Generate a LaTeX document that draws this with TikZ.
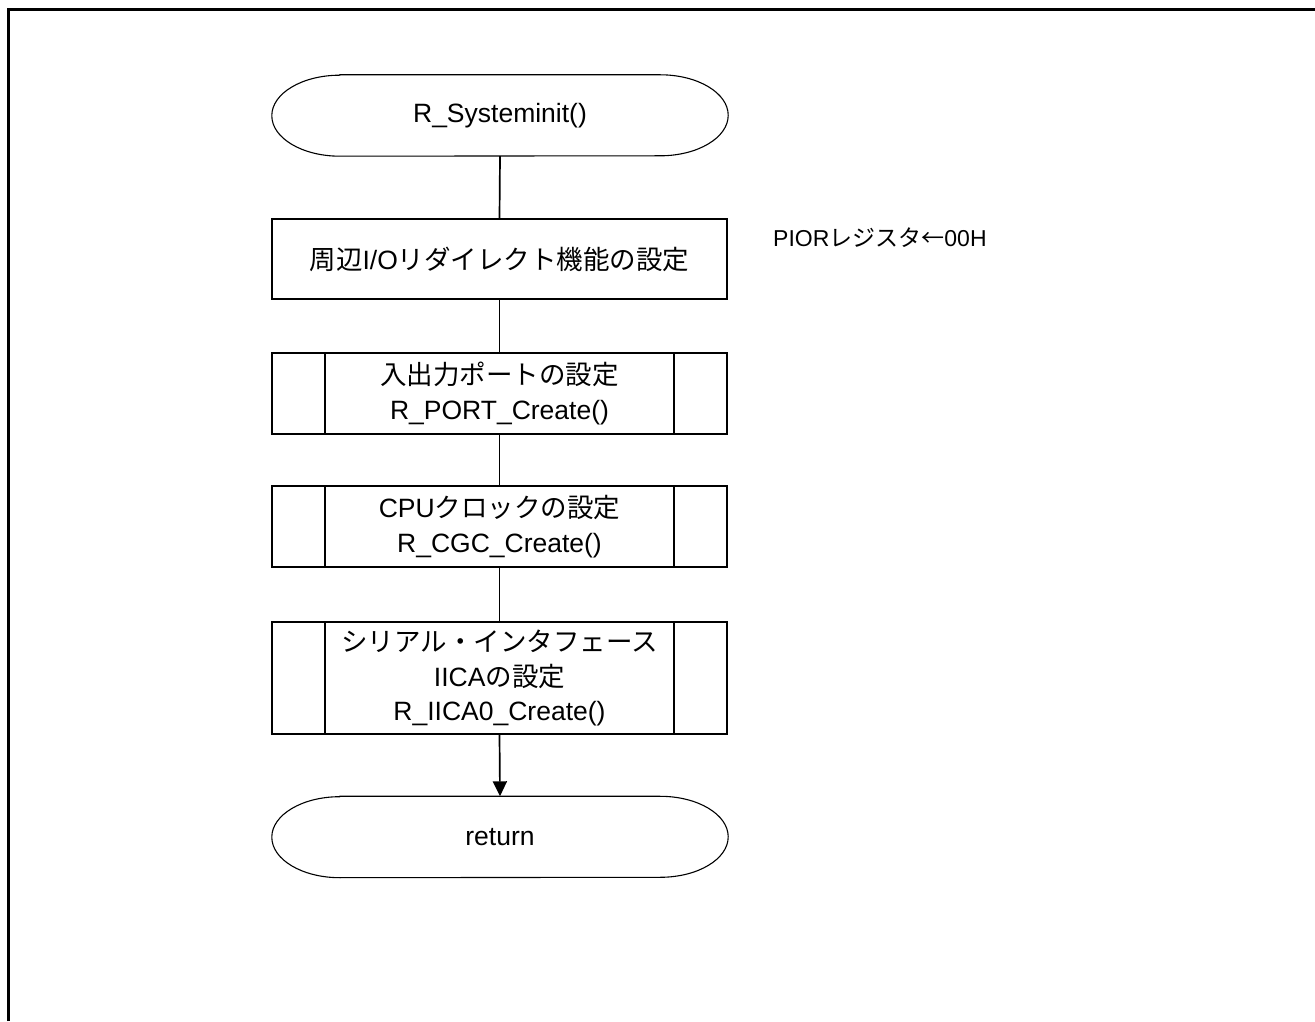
\documentclass[tikz,border=0pt]{standalone}
\usepackage{fontspec}
\setmainfont{Liberation Sans}
\newfontfamily\jp{Noto Sans CJK JP}
\usetikzlibrary{arrows.meta}
\newcommand{\drawterm}[1]{%
  \draw[termline] ([xshift=68pt]#1.north west) -- ([xshift=-68pt]#1.north east)
    arc[start angle=90,end angle=-90,x radius=68pt,y radius=40.5pt]
    -- ([xshift=68pt]#1.south west)
    arc[start angle=270,end angle=90,x radius=68pt,y radius=40.5pt] -- cycle;}
\newcommand{\drawsub}[1]{%
  \draw[boxline] ([xshift=54pt]#1.north west) -- ([xshift=54pt]#1.south west);
  \draw[boxline] ([xshift=-54pt]#1.north east) -- ([xshift=-54pt]#1.south east);}
\begin{document}
\begin{tikzpicture}[x=1pt,y=1pt,
  txt/.style={font=\fontsize{26.5}{34.5}\selectfont},
  boxline/.style={line width=1.9pt},
  termline/.style={line width=1.1pt},
  box/.style={txt,draw,boxline,minimum width=455pt,minimum height=81pt,inner sep=0pt,align=center},
  term/.style={txt,minimum width=456pt,minimum height=81pt,inner sep=0pt},
  note/.style={font=\fontsize{23}{28}\selectfont,anchor=west,inner sep=0pt},
  conn/.style={line width=1.7pt},
  arr/.style={conn,-{Triangle[length=15pt,width=14pt]}}
]
\useasboundingbox (0,0) rectangle (1315,1021);
\draw[line width=3pt,line join=miter] (8,0) -- (8,1011) -- (1315,1011);

\node[term] (start) at (500,905.5) {R\_Systeminit()};
\drawterm{start}
\node[box,minimum height=80pt] (pior) at (499.5,762) {{\jp 周辺}I/O{\jp リダイレクト機能の設定}};
\node[note] (piornote) at (773,783) {PIOR{\jp レジスタ←}00H};
\node[box] (port) at (499.5,627.5) {{\jp 入出力ポートの設定}\\R\_PORT\_Create()};
\drawsub{port}
\node[box] (cgc) at (499.5,494.5) {CPU{\jp クロックの設定}\\R\_CGC\_Create()};
\drawsub{cgc}
\node[box,minimum height=112pt] (iica) at (499.5,343) {{\jp シリアル・インタフェース}\\IICA{\jp の設定}\\R\_IICA0\_Create()};
\drawsub{iica}
\node[term] (ret) at (500,184) {return};
\drawterm{ret}

\draw[conn] (start.south) -- (pior.north);
\draw[conn] (pior.south) -- (port.north);
\draw[conn] (port.south) -- (cgc.north);
\draw[conn] (cgc.south) -- (iica.north);
\draw[arr] (iica.south) -- (ret.north);
\end{tikzpicture}
\end{document}
